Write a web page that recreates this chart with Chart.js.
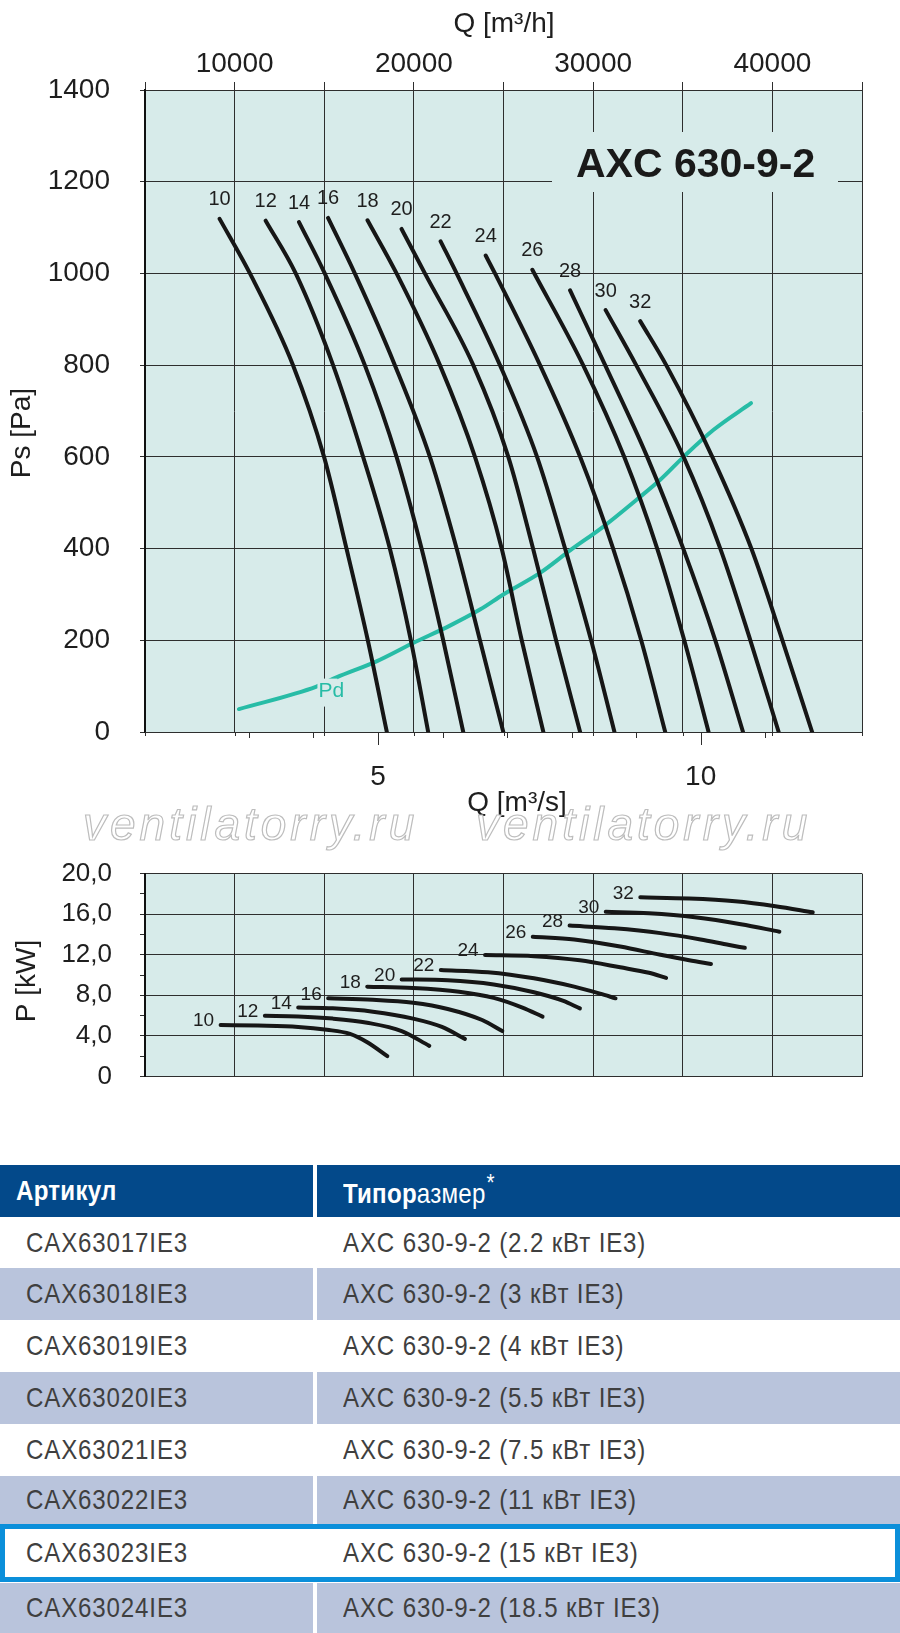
<!DOCTYPE html>
<html>
<head>
<meta charset="utf-8">
<script src="https://cdn.jsdelivr.net/npm/chart.js@4.4.1/dist/chart.umd.min.js"></script>
<style>
body{margin:0;background:#fff;width:900px;height:1633px;position:relative;overflow:hidden;font-family:"Liberation Sans",Arial,sans-serif}
#ps{position:absolute;left:0;top:0}
#kw{position:absolute;left:0;top:830px}
.wm{position:absolute;top:801px;font-size:46px;line-height:46px;font-style:italic;letter-spacing:4px;color:#fff;-webkit-text-stroke:1.2px #bdbdbd;white-space:nowrap;z-index:5}
#tbl{position:absolute;left:0;top:1165px;width:900px;font-family:"Liberation Sans",Arial,sans-serif}
.row{display:flex;box-sizing:border-box}
.row > div{display:flex;align-items:center;box-sizing:border-box;font-size:28px;letter-spacing:1px;color:#3f3f3f;white-space:nowrap;overflow:hidden}
.row span{display:inline-block;transform:scaleX(.86);transform-origin:0 50%}
.c1{width:313px;padding-left:26px}
.c2{flex:1;margin-left:4px;padding-left:26px}
.hd > div{background:#03498a;color:#fff;letter-spacing:.3px}
.hd .c1{padding-left:16px;font-weight:bold}
.hd sup{font-size:24px;font-weight:normal;margin-left:1px;position:relative;top:-2px}
.bl > div{background:#b9c4dc}
.hl{border:5px solid #0b8fda}
.hl .c1{width:308px;padding-left:21px}
</style>
</head>
<body>
<canvas id="ps" width="900" height="840"></canvas>
<canvas id="kw" width="900" height="290"></canvas>
<div class="wm" style="left:83px">ventilatorry.ru</div>
<div class="wm" style="left:476px">ventilatorry.ru</div>
<div id="tbl"></div>
<script>
// fan speeds (curve labels)
var speeds = [10, 12, 14, 16, 18, 20, 22, 24, 26, 28, 30, 32];

// static pressure curves: flow in m3/h, pressure in Pa
var psFlow = [
    [9162, 10855, 13257, 14989, 16240, 17430, 18492],
    [11732, 13408, 15492, 17168, 18659, 19832, 20799],
    [13592, 15028, 17263, 19034, 20430, 21637, 22754],
    [15212, 16704, 18939, 20894, 22385, 23687, 24989],
    [17413, 19034, 21453, 23408, 24899, 26017, 27224],
    [19313, 20615, 23313, 25268, 26648, 27933, 29274],
    [21492, 22385, 24804, 26872, 28436, 29888, 31190],
    [24006, 24525, 27039, 29274, 31117, 32682, 34022],
    [26609, 29441, 31732, 33575, 35084, 36441],
    [28715, 30670, 33017, 35028, 36816, 38363],
    [30698, 32402, 35045, 37095, 38771, 40352],
    [32626, 34078, 36648, 38827, 40559, 42218]
];
var psPress = [
    [1119, 1000, 800, 600, 400, 200, 0],
    [1115, 1000, 800, 600, 400, 200, 0],
    [1112, 1000, 800, 600, 400, 200, 0],
    [1121, 1000, 800, 600, 400, 200, 0],
    [1116, 1000, 800, 600, 400, 200, 0],
    [1097, 1000, 800, 600, 400, 200, 0],
    [1070, 1000, 800, 600, 400, 200, 0],
    [1039, 1000, 800, 600, 400, 200, 0],
    [1008, 800, 600, 400, 200, 0],
    [963, 800, 600, 400, 200, 0],
    [920, 800, 600, 400, 200, 0],
    [896, 800, 600, 400, 200, 0]
];

// dynamic pressure Pd
var pdFlow = [10240, 14564, 15682, 17916, 19961, 22011, 23687, 24989, 27039, 28715, 30575, 32441, 33743, 35045, 36721, 38810];
var pdPress = [50, 99, 119, 154, 194, 232, 267, 300, 347, 396, 448, 507, 550, 600, 659, 717];

// power curves: flow m3/h, power kW
var kwFlow = [
    [9218, 11302, 13547, 15151, 16436, 17397, 18520],
    [11687, 13547, 15475, 17397, 19319, 20861],
    [13547, 15475, 17715, 19961, 21565, 22849],
    [15218, 17715, 19961, 21889, 23810, 24933],
    [17397, 19961, 22525, 24453, 26056, 27179],
    [19319, 21889, 24453, 26699, 28302, 29263],
    [21503, 24128, 26699, 28944, 30386, 31251],
    [23972, 26699, 29263, 31509, 33112, 34072],
    [26632, 28944, 31509, 33754, 35358, 36576],
    [28687, 31184, 33754, 35995, 37598, 38464],
    [30704, 33112, 35676, 38240, 40391],
    [32632, 35358, 37922, 40168, 42252]
];
var kwPower = [
    [5.07, 5.01, 4.88, 4.60, 4.19, 3.37, 2.00],
    [5.97, 5.91, 5.70, 5.29, 4.47, 3.01],
    [6.79, 6.71, 6.38, 5.70, 4.88, 3.70],
    [7.70, 7.56, 7.26, 6.65, 5.56, 4.47],
    [8.85, 8.71, 8.35, 7.75, 6.79, 5.89],
    [9.56, 9.48, 9.07, 8.30, 7.47, 6.71],
    [10.49, 10.27, 9.67, 8.85, 8.16, 7.70],
    [11.97, 11.86, 11.45, 10.76, 10.22, 9.72],
    [13.77, 13.50, 12.81, 11.99, 11.45, 11.09],
    [14.87, 14.60, 14.13, 13.50, 12.95, 12.68],
    [16.24, 16.08, 15.69, 15.01, 14.27],
    [17.66, 17.55, 17.28, 16.79, 16.18]
];

// tick labels shown on the axes
var flowHourTicks = [10000, 20000, 30000, 40000];
var flowSecTicks = [5, 10];
var powerTicks = [0, 4, 8, 12, 16, 20];

// table
var articles = ['CAX63017IE3', 'CAX63018IE3', 'CAX63019IE3', 'CAX63020IE3', 'CAX63021IE3', 'CAX63022IE3', 'CAX63023IE3', 'CAX63024IE3'];
var sizes = ['AXC 630-9-2 (2.2 кВт IE3)', 'AXC 630-9-2 (3 кВт IE3)', 'AXC 630-9-2 (4 кВт IE3)', 'AXC 630-9-2 (5.5 кВт IE3)', 'AXC 630-9-2 (7.5 кВт IE3)', 'AXC 630-9-2 (11 кВт IE3)', 'AXC 630-9-2 (15 кВт IE3)', 'AXC 630-9-2 (18.5 кВт IE3)'];

var FONT = '"Liberation Sans", Arial, sans-serif';
var BG = '#d7ebea';
var GRID = '#2e2e2e';
var TXT = '#1e1e1e';

function points(xs, ys) {
    var out = [];
    for (var i = 0; i < xs.length; i++) {
        out.push({x: xs[i], y: ys[i]});
    }
    return out;
}

function curve(data, color) {
    return {
        data: data,
        borderColor: color,
        borderWidth: 4,
        borderCapStyle: 'round',
        borderJoinStyle: 'round',
        pointRadius: 0,
        cubicInterpolationMode: 'monotone',
        fill: false
    };
}

var psSets = [];
for (var i = 0; i < speeds.length; i++) {
    psSets.push(curve(points(psFlow[i], psPress[i]), '#161616'));
}
psSets.push(curve(points(pdFlow, pdPress), '#27bca6'));

var kwSets = [];
for (var i = 0; i < speeds.length; i++) {
    kwSets.push(curve(points(kwFlow[i], kwPower[i]), '#161616'));
}

var fillArea = {
    id: 'fillArea',
    beforeDraw: function(chart) {
        var a = chart.chartArea;
        var ctx = chart.ctx;
        ctx.save();
        ctx.fillStyle = BG;
        ctx.fillRect(a.left, a.top, a.right - a.left, a.bottom - a.top);
        ctx.restore();
    }
};

var psDecor = {
    id: 'psDecor',
    beforeDatasetsDraw: function(chart) {
        var ctx = chart.ctx;
        ctx.save();
        ctx.fillStyle = BG;
        ctx.fillRect(552, 132, 286, 60);
        ctx.fillStyle = '#1a1a1a';
        ctx.font = 'bold 41px ' + FONT;
        ctx.textAlign = 'left';
        ctx.textBaseline = 'alphabetic';
        ctx.fillText('AXC 630-9-2', 576, 177);
        ctx.restore();
    },
    afterDatasetsDraw: function(chart) {
        var ctx = chart.ctx;
        var a = chart.chartArea;
        ctx.save();
        // speed labels above each curve start
        ctx.fillStyle = TXT;
        ctx.font = '20px ' + FONT;
        ctx.textAlign = 'center';
        ctx.textBaseline = 'middle';
        for (var i = 0; i < speeds.length; i++) {
            var p = chart.getDatasetMeta(i).data[0];
            ctx.fillText(String(speeds[i]), p.x, p.y - 19);
        }
        // Pd label sits in a gap of the curve
        var q = chart.getDatasetMeta(speeds.length).data[1];
        ctx.fillStyle = BG;
        ctx.fillRect(q.x + 1, q.y - 8, 20, 28);
        ctx.fillStyle = '#27bca6';
        ctx.font = '21px ' + FONT;
        ctx.fillText('Pd', q.x + 15, q.y + 5);
        // tick marks under the plot
        ctx.strokeStyle = GRID;
        ctx.lineWidth = 1;
        var xs = chart.scales.x;
        xs.ticks.forEach(function(t) {
            var px = Math.round(xs.getPixelForValue(t.value)) + 0.5;
            ctx.beginPath();
            ctx.moveTo(px, a.bottom);
            ctx.lineTo(px, a.bottom + 4);
            ctx.stroke();
        });
        var x2 = chart.scales.x2;
        x2.ticks.forEach(function(t) {
            if (Math.abs(t.value - Math.round(t.value)) > 1e-6) return;
            var px = Math.round(x2.getPixelForValue(t.value)) + 0.5;
            var len = flowSecTicks.indexOf(t.value) >= 0 ? 13 : 6;
            ctx.beginPath();
            ctx.moveTo(px, a.bottom);
            ctx.lineTo(px, a.bottom + len);
            ctx.stroke();
        });
        // axis titles
        ctx.fillStyle = TXT;
        ctx.font = '28px ' + FONT;
        ctx.textAlign = 'center';
        ctx.textBaseline = 'middle';
        ctx.fillText('Q [m³/h]', 504, 24);
        ctx.fillText('Q [m³/s]', 517, 803);
        ctx.translate(22, 433);
        ctx.rotate(-Math.PI / 2);
        ctx.fillText('Ps [Pa]', 0, 0);
        ctx.restore();
    }
};

var kwDecor = {
    id: 'kwDecor',
    afterDatasetsDraw: function(chart) {
        var ctx = chart.ctx;
        ctx.save();
        ctx.fillStyle = TXT;
        ctx.font = '19px ' + FONT;
        ctx.textAlign = 'center';
        ctx.textBaseline = 'middle';
        for (var i = 0; i < speeds.length; i++) {
            var p = chart.getDatasetMeta(i).data[0];
            ctx.fillText(String(speeds[i]), p.x - 17, p.y - 4);
        }
        ctx.font = '28px ' + FONT;
        ctx.translate(27, 151);
        ctx.rotate(-Math.PI / 2);
        ctx.fillText('P [kW]', 0, 0);
        ctx.restore();
    }
};

Chart.defaults.font.family = FONT;
Chart.defaults.color = TXT;

new Chart(document.getElementById('ps'), {
    type: 'line',
    data: {datasets: psSets},
    options: {
        responsive: false,
        animation: false,
        devicePixelRatio: 1,
        layout: {padding: {left: 0, right: 38, top: 0, bottom: 0}},
        plugins: {legend: {display: false}, tooltip: {enabled: false}},
        scales: {
            x: {
                type: 'linear',
                position: 'top',
                min: 5000,
                max: 45000,
                ticks: {
                    stepSize: 5000,
                    autoSkip: false,
                    maxRotation: 0,
                    padding: 1,
                    font: {size: 28},
                    callback: function(v) { return flowHourTicks.indexOf(v) >= 0 ? String(v) : ''; }
                },
                grid: {color: GRID, lineWidth: 1, tickLength: 8},
                border: {color: GRID, width: 1},
                afterFit: function(s) { s.height = 90; }
            },
            x2: {
                type: 'linear',
                position: 'bottom',
                min: 5000 / 3600,
                max: 12.5,
                ticks: {
                    stepSize: 1,
                    autoSkip: false,
                    maxRotation: 0,
                    padding: 28,
                    font: {size: 28},
                    callback: function(v) { return flowSecTicks.indexOf(v) >= 0 ? String(v) : ''; }
                },
                grid: {display: false, drawTicks: false},
                border: {display: false},
                afterFit: function(s) { s.height = 108; }
            },
            y: {
                min: 0,
                max: 1400,
                ticks: {
                    stepSize: 200,
                    autoSkip: false,
                    padding: 30,
                    font: {size: 28},
                    callback: function(v) { return String(v); }
                },
                grid: {color: GRID, lineWidth: 1, tickLength: 5},
                border: {color: '#111', width: 2},
                afterFit: function(s) { s.width = 145; }
            }
        }
    },
    plugins: [fillArea, psDecor]
});

new Chart(document.getElementById('kw'), {
    type: 'line',
    data: {datasets: kwSets},
    options: {
        responsive: false,
        animation: false,
        devicePixelRatio: 1,
        layout: {padding: {left: 0, right: 38, top: 24, bottom: 0}},
        plugins: {legend: {display: false}, tooltip: {enabled: false}},
        scales: {
            x: {
                type: 'linear',
                position: 'bottom',
                min: 5000,
                max: 45000,
                ticks: {stepSize: 5000, autoSkip: false, display: false},
                grid: {color: GRID, lineWidth: 1, drawTicks: false},
                border: {color: GRID, width: 1},
                afterFit: function(s) { s.height = 22; }
            },
            y: {
                min: 0,
                max: 20,
                ticks: {
                    stepSize: 2,
                    autoSkip: false,
                    padding: 28,
                    font: {size: 26},
                    callback: function(v) {
                        if (powerTicks.indexOf(v) < 0) return '';
                        return v === 0 ? '0' : v.toFixed(1).replace('.', ',');
                    }
                },
                grid: {
                    color: function(c) { return c.tick && powerTicks.indexOf(c.tick.value) >= 0 ? GRID : 'rgba(0,0,0,0)'; },
                    tickColor: GRID,
                    lineWidth: 1,
                    tickLength: 5
                },
                border: {color: '#111', width: 2},
                afterFit: function(s) { s.width = 145; }
            }
        }
    },
    plugins: [fillArea, kwDecor]
});

// table
var heights = [51, 52, 52, 52, 52, 48, 58, 50];
var html = '<div class="row hd" style="height:52px"><div class="c1"><span>Артикул</span></div><div class="c2"><span><b>Типор</b>азмер<sup>*</sup></span></div></div>';
for (var i = 0; i < articles.length; i++) {
    var cls = 'row';
    if (i % 2 === 1 && i !== 6) cls += ' bl';
    if (i === 6) cls += ' hl';
    var extra = i === 7 ? 'margin-top:1px;' : '';
    html += '<div class="' + cls + '" style="height:' + heights[i] + 'px;' + extra + '"><div class="c1"><span>' + articles[i] + '</span></div><div class="c2"><span>' + sizes[i] + '</span></div></div>';
}
document.getElementById('tbl').innerHTML = html;
</script>
</body>
</html>
